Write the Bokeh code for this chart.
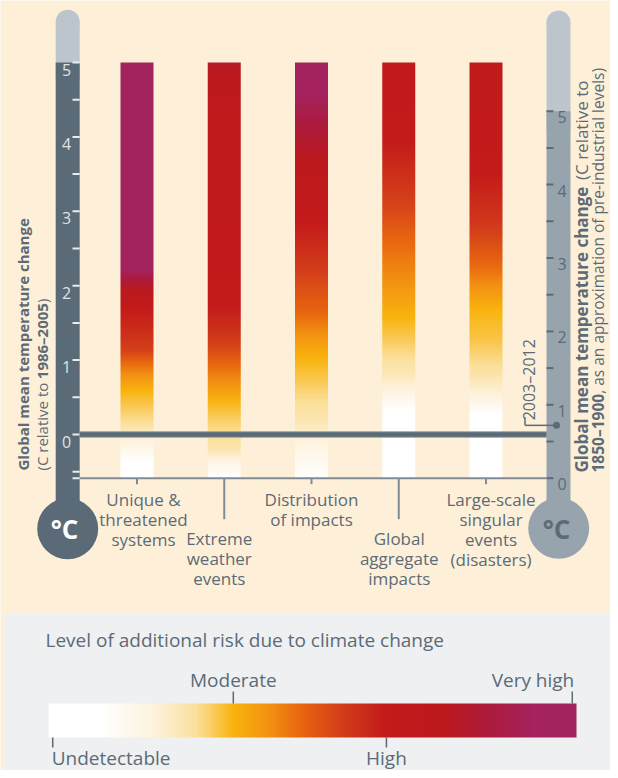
import numpy as np
from bokeh.plotting import figure
from bokeh.models import Range1d
from bokeh.embed import file_html
from bokeh.resources import INLINE
from bokeh.core.properties import value

# ---------------- data ----------------
categories = ["Unique &\nthreatened\nsystems", "Extreme\nweather\nevents",
              "Distribution\nof impacts", "Global\naggregate\nimpacts",
              "Large-scale\nsingular\nevents\n(disasters)"]

left_ticks = [-0.5, 0.0, 0.5, 1.0, 1.5, 2.0, 2.5, 3.0, 3.5, 4.0, 4.5, 5.0]
left_labels = [0, 1, 2, 3, 4, 5]
right_ticks = [0.0, 0.5, 1.0, 1.5, 2.0, 2.5, 3.0, 3.5, 4.0, 4.5, 5.0]
right_labels = [0, 1, 2, 3, 4, 5]

temp_min, temp_max = -0.59, 5.0          # bar extent (relative to 1986-2005)
present_right = 0.72                      # 2003-2012 (relative to 1850-1900)
present_label = "2003–2012"

left_title = [("Global mean temperature change", True)]
left_sub = [("(C relative to", False), (" ", False), ("1986–2005", True), (")", False)]
right_line1 = [("Global mean temperature change", True), ("  ", False), ("(C relative to", False)]
right_line2 = [("1850–1900", True), (", as an approximation of pre-industrial levels)", False)]

legend_title = "Level of additional risk due to climate change"
risk_names = ["Undetectable", "Moderate", "High", "Very high"]
risk_pos = [0.008, 0.35, 0.64, 0.992]

cmap_pos = [0.0, 0.10, 0.20, 0.28, 0.35, 0.42, 0.48, 0.55, 0.64, 0.75, 0.83, 0.92, 1.0]
cmap_hex = ["#ffffff", "#ffffff", "#fdf2dc", "#fbe09c", "#f8b30d", "#f29012", "#e8650f",
            "#d4401a", "#c31a1a", "#bc1a1e", "#ad1a3a", "#a4225e", "#a3235f"]

# risk (position on the legend scale) versus temperature, per reason for concern
risk_temp_unique = [-0.59, -0.31, 0.15, 0.59, 0.95, 1.13, 1.67, 1.9, 2.07, 2.2, 2.31, 5.0]
risk_val_unique = [0.02, 0.12, 0.28, 0.35, 0.47, 0.55, 0.64, 0.74, 0.83, 0.92, 1.0, 1.0]
risk_temp_extreme = [-0.59, -0.39, -0.2, 0.15, 0.46, 0.63, 0.95, 1.26, 1.71, 4.4, 5.0]
risk_val_extreme = [0.10, 0.17, 0.26, 0.30, 0.35, 0.40, 0.48, 0.56, 0.64, 0.70, 0.78]
risk_temp_distrib = [-0.59, -0.15, 0.15, 0.59, 1.09, 1.63, 1.94, 2.38, 2.84, 3.28, 4.05, 4.62, 5.0]
risk_val_distrib = [0.10, 0.18, 0.25, 0.30, 0.36, 0.48, 0.52, 0.58, 0.64, 0.68, 0.82, 0.93, 0.97]
risk_temp_global = [-0.59, 0.0, 0.28, 0.55, 0.82, 1.17, 1.57, 2.07, 2.61, 3.05, 3.41, 3.95, 5.0]
risk_val_global = [0.0, 0.0, 0.08, 0.18, 0.25, 0.30, 0.35, 0.42, 0.48, 0.54, 0.58, 0.64, 0.66]
risk_temp_large = [-0.59, 0.0, 0.19, 0.46, 0.82, 1.26, 1.67, 2.24, 2.84, 3.51, 5.0]
risk_val_large = [0.0, 0.0, 0.06, 0.18, 0.27, 0.32, 0.35, 0.47, 0.57, 0.64, 0.68]

risk_temps = [risk_temp_unique, risk_temp_extreme, risk_temp_distrib, risk_temp_global, risk_temp_large]
risk_vals = [risk_val_unique, risk_val_extreme, risk_val_distrib, risk_val_global, risk_val_large]

# ---------------- layout (reference pixel geometry) ----------------
W, H = 610, 770
SLOT_PX, SLOT1_PX = 87.25, 136.5
T0_PX, T_PPD = 434.0, 74.4
R0_PX, R_PPD = 477.7, 73.4
RISK0_PX, RISK_W = 48.0, 528.0
BAR_W_PX = 33.0

CREAM = "#FEF0D8"
PANEL = "#EEF0F2"
SLATE = "#5A6B77"
TUBE_LIGHT = "#BCC5CC"
TUBE_MID = "#97A4AD"
TEXT = "#5B6B77"
TICK_LIGHT = "#E9EDF0"
FONT = value("Open Sans")

sx = lambda px: 1 + (px - SLOT1_PX) / SLOT_PX
ty = lambda py: (T0_PX - py) / T_PPD
ry = lambda py: (R0_PX - py) / R_PPD
rx = lambda px: (px - RISK0_PX) / RISK_W

p = figure(width=W, height=H, x_range=Range1d(sx(0), sx(W)), y_range=Range1d(ty(H), ty(0)),
           toolbar_location=None, output_backend="svg", min_border=0,
           x_axis_location=None, y_axis_location=None)
p.extra_x_ranges = {"px": Range1d(0, W), "risk": Range1d(rx(0), rx(W))}
p.extra_y_ranges = {"px": Range1d(H, 0), "right": Range1d(ry(H), ry(0)), "lg": Range1d(0, H)}
p.background_fill_color = CREAM
p.border_fill_color = CREAM
p.outline_line_color = None
p.grid.visible = False

PX = dict(x_range_name="px", y_range_name="px")

# text width helper (approximate Open Sans advances, em units)
_REG = {" ": .26, "(": .273, ")": .273, ",": .245, "-": .322, ".": .266, "–": .5,
        "C": .631, "G": .728, "L": .518, "U": .738,
        "a": .556, "b": .613, "c": .476, "d": .613, "e": .561, "f": .339, "g": .548, "h": .614,
        "i": .253, "k": .525, "l": .253, "m": .930, "n": .614, "o": .604, "p": .613, "r": .408,
        "s": .477, "t": .353, "u": .614, "v": .501, "x": .524, "y": .502}
_BOLD = {" ": .26, "(": .333, ")": .333, ",": .286, "–": .5, "G": .729,
         "a": .59, "b": .633, "c": .504, "d": .633, "e": .59, "g": .557, "h": .656, "l": .3,
         "m": .984, "n": .656, "o": .626, "p": .633, "r": .458, "t": .403, "u": .656}
def text_w(s, size, bold=False):
    t = _BOLD if bold else _REG
    return size * sum(t.get(c, 0.572) for c in s)

def hex2rgb(h):
    return [int(h[i:i + 2], 16) for i in (1, 3, 5)]
CM = np.array([hex2rgb(c) for c in cmap_hex], float)

def colorize(r):
    r = np.asarray(r, float)
    out = np.empty(r.shape + (4,), dtype=np.uint8)
    for k in range(3):
        out[..., k] = np.round(np.interp(r, cmap_pos, CM[:, k]))
    out[..., 3] = 255
    return np.ascontiguousarray(out).view(np.uint32).reshape(r.shape)

# ---------------- legend panel ----------------
p.quad(left=4, right=W + 10, top=613, bottom=H + 10, fill_color=PANEL, line_color=None, **PX)

# ---------------- gradient bars ----------------
slots = np.arange(1, len(categories) + 1)
half = BAR_W_PX / 2 / SLOT_PX
temps = np.linspace(temp_min, temp_max, 900)
for i, s in enumerate(slots):
    r = np.interp(temps, risk_temps[i], risk_vals[i])
    img = colorize(np.repeat(r[:, None], 2, axis=1))
    p.image_rgba(image=[img], x=s - half, y=temp_min, dw=2 * half, dh=temp_max - temp_min)

# ---------------- thermometers ----------------
# left
p.scatter(x=[67.2], y=[21.3], size=24, marker="circle", fill_color=TUBE_LIGHT, line_color=None, **PX)
p.quad(left=55.2, right=79.2, top=21.3, bottom=80, fill_color=TUBE_LIGHT, line_color=None, **PX)
p.quad(left=55.2, right=79.2, top=temp_max, bottom=ty(528), fill_color=SLATE, line_color=None,
       x_range_name="px")
p.scatter(x=[67.2], y=[528.2], size=61, marker="circle", fill_color=SLATE, line_color=None, **PX)
# right
p.scatter(x=[558.0], y=[22.0], size=24, marker="circle", fill_color=TUBE_LIGHT, line_color=None, **PX)
p.quad(left=546, right=570, top=22, bottom=130, fill_color=TUBE_LIGHT, line_color=None, **PX)
p.quad(left=546, right=570, top=max(right_ticks), bottom=ry(528), fill_color=TUBE_MID,
       line_color=None, x_range_name="px", y_range_name="right")
p.scatter(x=[558.2], y=[527.8], size=61, marker="circle", fill_color=TUBE_MID, line_color=None, **PX)

p.text(x=[64], y=[528.5], text=["°C"], text_font=FONT, text_font_style="bold", text_font_size="26px",
       text_color="white", text_align="center", text_baseline="middle", **PX)
p.text(x=[556], y=[528.5], text=["°C"], text_font=FONT, text_font_style="bold", text_font_size="26px",
       text_color=SLATE, text_align="center", text_baseline="middle", **PX)

# left scale ticks and labels
p.segment(x0=[72] * len(left_ticks), x1=[79.2] * len(left_ticks), y0=left_ticks, y1=left_ticks,
          line_color=TICK_LIGHT, line_width=2, x_range_name="px")
p.text(x=[66] * len(left_labels), y=left_labels, text=[str(v) for v in left_labels],
       text_font=FONT, text_font_size="16px", text_color="#DDE3E7",
       text_align="center", text_baseline="middle", y_offset=7, x_range_name="px")
# right scale ticks and labels
p.segment(x0=[546] * len(right_ticks), x1=[553] * len(right_ticks), y0=right_ticks, y1=right_ticks,
          line_color=SLATE, line_width=2, x_range_name="px", y_range_name="right")
p.text(x=[561.5] * len(right_labels), y=right_labels, text=[str(v) for v in right_labels],
       text_font=FONT, text_font_size="16px", text_color=SLATE,
       text_align="center", text_baseline="middle", y_offset=6, x_range_name="px", y_range_name="right")

# baseline (right-scale zero) and category ticks
p.segment(x0=[72], x1=[79.2], y0=[0], y1=[0], line_color=TICK_LIGHT, line_width=2,
          x_range_name="px", y_range_name="right")
p.segment(x0=[79.2], x1=[546], y0=[0], y1=[0], line_color="#7F8C95", line_width=2,
          x_range_name="px", y_range_name="right")
label_row = [0, 1, 0, 1, 0]
tick_len = [6 if r == 0 else 41 for r in label_row]
p.segment(x0=slots, x1=slots, y0=[0] * 5, y1=[-l / R_PPD for l in tick_len],
          line_color="#7F8C95", line_width=2, y_range_name="right")

# zero line (1986-2005)
p.segment(x0=[79.2], x1=[546], y0=[0], y1=[0], line_color="#8E9AA3", line_width=6.5, x_range_name="px")
p.segment(x0=[79.2], x1=[546], y0=[0], y1=[0], line_color=SLATE, line_width=4.5, x_range_name="px")

# 2003-2012 marker
p.segment(x0=[524.5], x1=[556], y0=[present_right], y1=[present_right], line_color=SLATE,
          line_width=1.5, x_range_name="px", y_range_name="right")
p.segment(x0=[524.5], x1=[524.5], y0=[present_right], y1=[present_right + 8 / R_PPD],
          line_color=SLATE, line_width=1.5, x_range_name="px", y_range_name="right")
p.scatter(x=[556], y=[present_right], size=7, marker="circle", fill_color=SLATE, line_color=None,
          x_range_name="px", y_range_name="right")
p.text(x=[528], y=[present_right], text=[present_label], angle=np.pi / 2, text_font=FONT,
       text_font_size="16px", text_color=TEXT, text_align="left", text_baseline="middle",
       y_offset=-5, x_range_name="px", y_range_name="right")

# category labels
label_dx = [6.5, -5, 0, 0.5, 5]
first_line_y = {0: 499, 1: 538}
lx, ly, lt, lo = [], [], [], []
for i, cat in enumerate(categories):
    for j, line in enumerate(cat.split("\n")):
        lx.append(slots[i])
        ly.append(ty(first_line_y[label_row[i]] + 20 * j))
        lt.append(line)
        lo.append(label_dx[i])
p.text(x=lx, y=ly, text=lt, x_offset=lo, text_font=FONT, text_font_size="17px", text_color=TEXT,
       text_align="center", text_baseline="middle")

# rotated axis titles
def rotated(segments, x, y_start, size):
    y = y_start
    for txt, bold in segments:
        if txt.strip():
            p.text(x=[x], y=[y], text=[txt], angle=np.pi / 2, text_font=FONT,
                   text_font_style="bold" if bold else "normal", text_font_size=f"{size}px",
                   text_color=TEXT, text_align="left", text_baseline="middle", **PX)
        y -= text_w(txt, size, bold)

rotated(left_title, 22, 470, 15)
rotated(left_sub, 41, 470, 15)
rotated(right_line1, 580.5, 472, 17)
rotated(right_line2, 597, 472, 15.5)

# ---------------- legend ----------------
ramp = np.linspace(0, 1, 600)
p.image_rgba(image=[colorize(np.repeat(ramp[None, :], 2, axis=0))], x=0, y=H - 737, dw=1, dh=34,
             x_range_name="risk", y_range_name="lg")
p.text(x=[45], y=[639], text=[legend_title], text_font=FONT, text_font_size="19px", text_color=TEXT,
       text_align="left", text_baseline="middle", **PX)
above = [1, 3]
below = [0, 2]
p.segment(x0=[risk_pos[i] for i in above], x1=[risk_pos[i] for i in above],
          y0=[H - 691] * 2, y1=[H - 703] * 2, line_color=SLATE, line_width=1.5,
          x_range_name="risk", y_range_name="lg")
p.segment(x0=[risk_pos[i] for i in below], x1=[risk_pos[i] for i in below],
          y0=[H - 737] * 2, y1=[H - 747] * 2, line_color=SLATE, line_width=1.5,
          x_range_name="risk", y_range_name="lg")
p.text(x=[risk_pos[1]], y=[H - 679], text=[risk_names[1]], text_font=FONT, text_font_size="19px",
       text_color=TEXT, text_align="center", text_baseline="middle", x_range_name="risk", y_range_name="lg")
p.text(x=[risk_pos[3]], y=[H - 679], text=[risk_names[3]], x_offset=2, text_font=FONT,
       text_font_size="19px", text_color=TEXT, text_align="right", text_baseline="middle",
       x_range_name="risk", y_range_name="lg")
p.text(x=[risk_pos[0]], y=[H - 757], text=[risk_names[0]], x_offset=-1, text_font=FONT,
       text_font_size="19px", text_color=TEXT, text_align="left", text_baseline="middle",
       x_range_name="risk", y_range_name="lg")
p.text(x=[risk_pos[2]], y=[H - 757], text=[risk_names[2]], text_font=FONT, text_font_size="19px",
       text_color=TEXT, text_align="center", text_baseline="middle", x_range_name="risk", y_range_name="lg")

open("out.html", "w").write(file_html(p, INLINE))
